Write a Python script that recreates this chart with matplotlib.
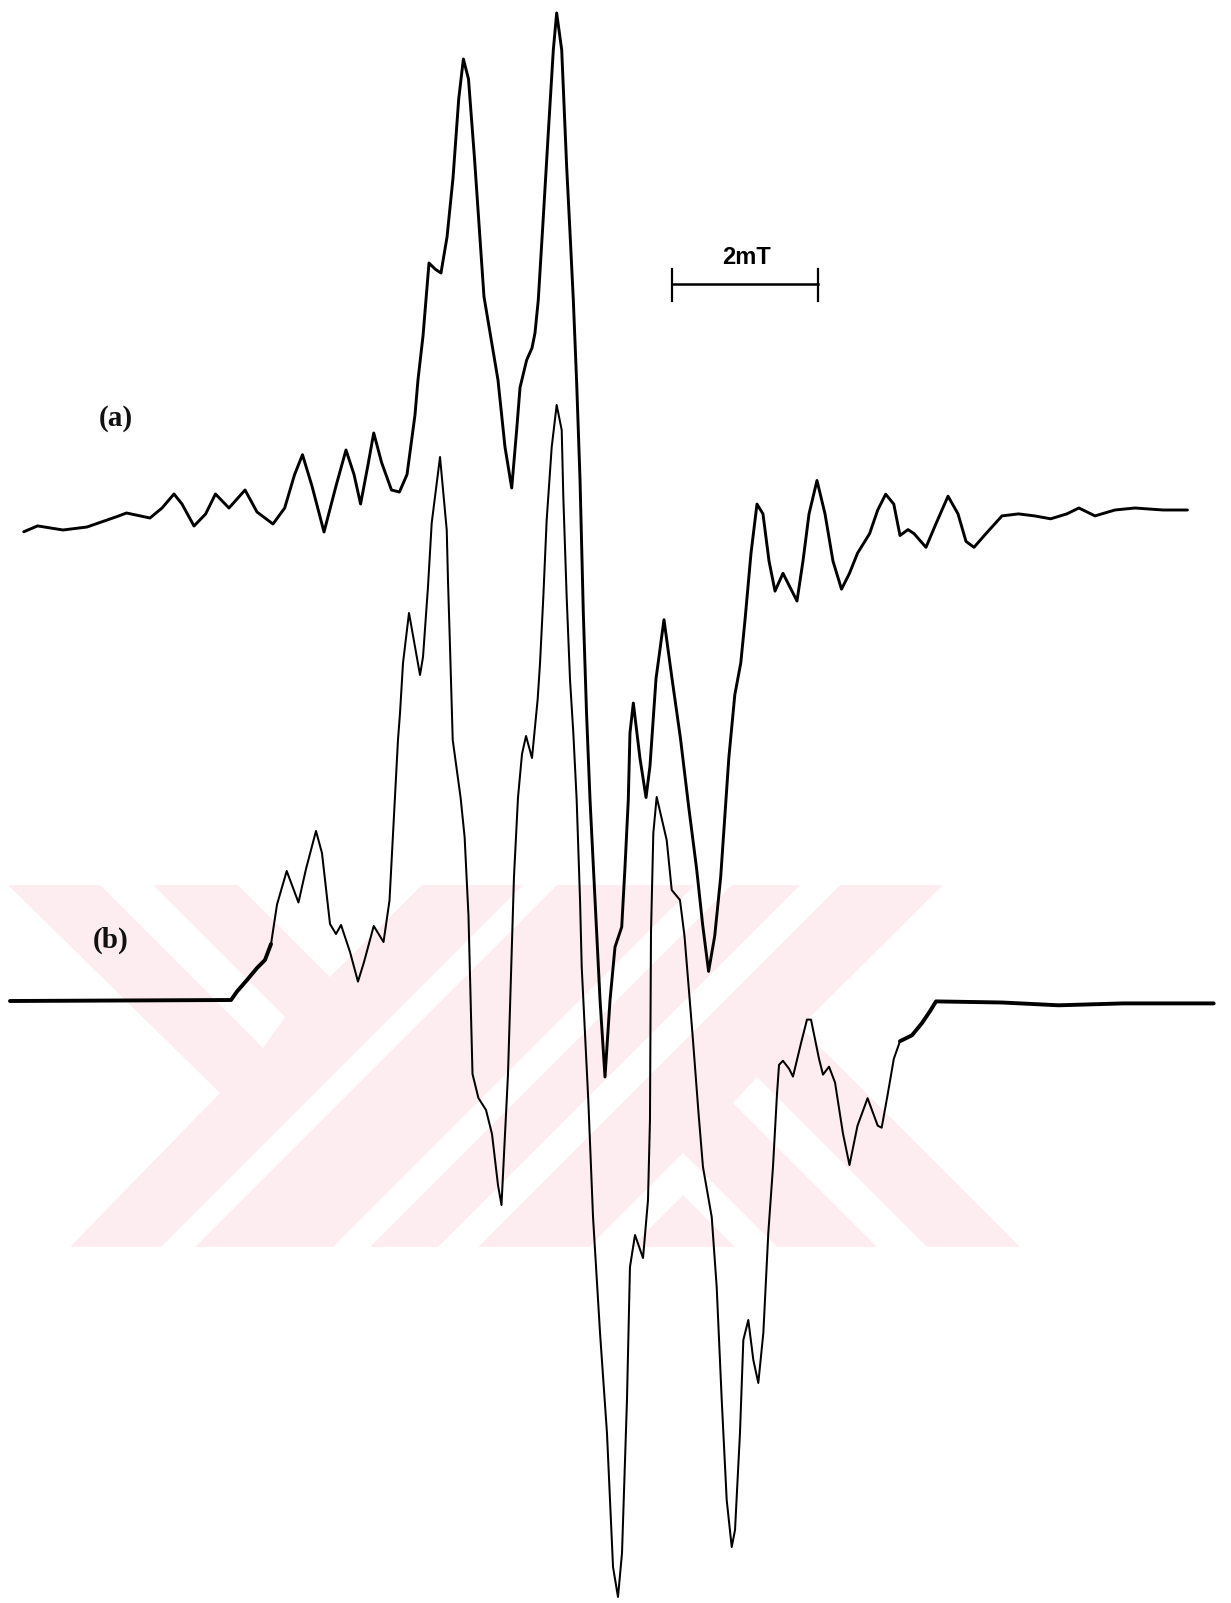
import matplotlib
matplotlib.use("Agg")
import matplotlib.pyplot as plt
from matplotlib.patches import Polygon
from matplotlib import font_manager
import numpy as np

# ---------------- data ----------------
# magnetic field offset (mT) and first-derivative signal (arbitrary units)
field_a = [-8.100, -7.910, -7.562, -7.233, -6.800, -6.692, -6.370, -6.205, -6.041, -5.932,
           -5.767, -5.608, -5.473, -5.288, -5.068, -4.904, -4.685, -4.525, -4.389, -4.281,
           -4.151, -3.986, -3.822, -3.685, -3.575, -3.485, -3.388, -3.305, -3.197, -3.062,
           -2.953, -2.849, -2.740, -2.699, -2.630, -2.548, -2.466, -2.384, -2.301, -2.219,
           -2.141, -2.077, -2.007, -1.925, -1.795, -1.685, -1.603, -1.507, -1.415, -1.347,
           -1.301, -1.210, -1.137, -1.096, -1.051, -0.982, -0.914, -0.845, -0.799, -0.730,
           -0.662, -0.616, -0.571, -0.525, -0.479, -0.456, -0.434, -0.390, -0.342, -0.274,
           -0.205, -0.137, -0.068, 0.000, 0.092, 0.137, 0.182, 0.205, 0.251, 0.342,
           0.425, 0.479, 0.562, 0.671, 0.781, 0.897, 1.007, 1.118, 1.200, 1.282,
           1.366, 1.448, 1.559, 1.641, 1.723, 1.781, 1.863, 1.945, 2.027, 2.110,
           2.192, 2.301, 2.411, 2.493, 2.575, 2.658, 2.767, 2.877, 2.986, 3.103,
           3.212, 3.322, 3.488, 3.599, 3.708, 3.819, 3.904, 4.014, 4.096, 4.260,
           4.397, 4.562, 4.699, 4.808, 4.918, 5.082, 5.301, 5.527, 5.748, 5.968,
           6.189, 6.355, 6.575, 6.849, 7.123, 7.507, 7.842]
signal_a = [-1.18, -0.59, -1.0, -0.7, 0.4, 0.7, 0.2, 1.2, 2.6, 1.6,
            -0.6, 0.6, 2.6, 1.2, 3.0, 0.8, -0.4, 1.2, 4.55, 6.53,
            3.4, -1.2, 3.4, 7.0, 4.55, 1.6, 5.34, 8.7, 5.74, 3.0,
            2.8, 4.55, 10.5, 14.0, 18.4, 25.7, 25.1, 24.7, 28.3, 34.2,
            42.1, 46.1, 44.1, 36.2, 22.35, 17.6, 14.0, 7.3, 3.2, 9.0,
            13.25, 16.0, 17.2, 18.7, 22.0, 30.3, 38.7, 47.0, 50.7, 47.0,
            35.3, 28.7, 22.0, 13.7, 4.0, -2.7, -9.3, -19.3, -28.0, -38.0,
            -48.0, -55.7, -48.0, -42.7, -40.7, -34.7, -28.0, -21.3, -18.3, -23.82,
            -27.75, -24.61, -15.86, -9.97, -15.86, -21.85, -28.54, -34.88, -40.43, -45.14,
            -41.6, -35.68, -23.82, -17.49, -14.29, -10.0, -3.32, 1.59, 0.61, -4.11,
            -7.11, -5.33, -6.92, -8.10, -4.11, 0.61, 3.95, 0.61, -4.11, -6.92,
            -5.33, -3.32, -1.36, 1.0, 2.58, 1.59, -1.55, -0.96, -1.36, -2.73,
            -0.37, 2.38, 0.61, -2.14, -2.73, -1.36, 0.41, 0.61, 0.41, 0.12,
            0.61, 1.2, 0.41, 1.0, 1.2, 1.0, 1.0]

field_b = [-8.288, -5.260, -5.178, -5.041, -4.904, -4.795, -4.712, -4.630, -4.497, -4.336,
           -4.233, -4.096, -4.014, -3.904, -3.822, -3.753, -3.630, -3.521, -3.438, -3.305,
           -3.171, -3.089, -3.014, -2.973, -2.945, -2.904, -2.822, -2.671, -2.630, -2.562,
           -2.511, -2.397, -2.305, -2.288, -2.260, -2.223, -2.115, -2.060, -2.007,
           -1.979, -1.952, -1.871, -1.767, -1.685, -1.603, -1.555, -1.466, -1.384, -1.329,
           -1.274, -1.219, -1.137, -1.059, -1.027, -0.982, -0.936, -0.867, -0.799, -0.730,
           -0.708, -0.662, -0.616, -0.571, -0.525, -0.479, -0.456, -0.411, -0.366, -0.301,
           -0.205, -0.110, -0.027, 0.041, 0.096, 0.164, 0.205, 0.274, 0.384, 0.452,
           0.479, 0.486, 0.493, 0.525, 0.571, 0.708, 0.777, 0.890, 0.952, 1.063,
           1.145, 1.205, 1.325, 1.393, 1.462, 1.530, 1.599, 1.644, 1.712, 1.758,
           1.826, 1.895, 1.963, 2.032, 2.100, 2.164, 2.219, 2.247, 2.301, 2.384,
           2.438, 2.548, 2.630, 2.685, 2.795, 2.849, 2.932, 3.014, 3.123, 3.212,
           3.322, 3.460, 3.599, 3.653, 3.736, 3.819, 3.904, 4.068, 4.205, 4.315,
           4.397, 5.301, 6.078, 6.959, 8.201]
signal_b = [0.4, 0.5, 1.35, 2.5, 3.7, 4.5, 6.1, 10.05, 13.4, 10.25,
            13.6, 17.4, 15.2, 8.1, 7.1, 8.0, 5.3, 2.34, 4.3, 7.9,
            6.3, 10.45, 20.73, 26.5, 29.2, 34.2, 39.2, 33.0, 34.8, 41.8,
            48.2, 54.8, 47.5, 42.5, 35.8, 26.5, 20.73, 16.8, 8.9,
            1.0, -6.9, -9.3, -10.5, -12.9, -18.0, -20.0, -6.95, 12.8, 20.73,
            25.1, 26.9, 24.7, 30.6, 34.2, 40.8, 48.5, 55.8, 60.0, 57.5,
            50.8, 40.8, 32.5, 27.2, 20.5, 10.5, 3.8, -2.8, -9.5, -21.2,
            -32.8, -42.8, -56.2, -59.2, -54.8, -39.5, -26.2, -23.0, -25.3, -19.5,
            -11.5, -2.8, 7.2, 17.2, 20.8, 16.5, 11.5, 10.5, 6.9, -3.03,
            -10.89, -16.2, -21.2, -28.2, -39.5, -49.5, -54.2, -52.5, -42.8, -33.5,
            -31.5, -35.5, -37.8, -32.8, -22.8, -16.2, -8.92, -5.98, -5.58, -6.37,
            -7.16, -3.82, -1.46, -1.46, -5.39, -6.96, -6.17, -7.75, -12.86, -16.0,
            -12.07, -9.32, -12.07, -12.27, -8.92, -5.39, -3.62, -3.03, -1.81, -0.62,
            0.36, 0.25, -0.03, 0.16, 0.16]

spectrum_labels = ["(a)", "(b)"]
scale_bar_mT = 2.0
scale_bar_text = "2mT"

# ---------------- figure ----------------
W, H = 1231, 1603
fig = plt.figure(figsize=(W / 100, H / 100), dpi=100)
fig.patch.set_facecolor("white")

# background: faint pink watermark of the scanned page (pixel frame)
bg = fig.add_axes([0, 0, 1, 1])
bg.set_xlim(0, W)
bg.set_ylim(H, 0)
bg.axis("off")
pink = "#fdedf0"
base = [(8, 885), (943, 885), (800, 1027), (1020, 1247), (70, 1247), (220, 1093)]
bg.add_patch(Polygon(base, closed=True, facecolor=pink, edgecolor="none", zorder=0))
white_cuts = [
    [(100, 885), (153, 885), (285, 1017), (263, 1048)],
    [(238, 885), (422, 885), (330, 977)],
    [(523, 885), (557, 885), (195, 1247), (161, 1247)],
    [(695, 885), (732, 885), (370, 1247), (333, 1247)],
    [(800, 885), (840, 885), (478, 1247), (438, 1247)],
    [(589, 1247), (683, 1153), (777, 1247), (735, 1247), (683, 1195), (631, 1247)],
    [(733, 1103), (757, 1077), (927, 1247), (877, 1247)],
]
for poly in white_cuts:
    bg.add_patch(Polygon(poly, closed=True, facecolor="white", edgecolor="none", zorder=1))

# data axes: field in mT, signal in a.u.
ax = fig.add_axes([0, 0, 1, 1])
ax.patch.set_alpha(0)
ax.axis("off")
px_per_mT = 73.0
center_px = 615.0
ax.set_xlim(-center_px / px_per_mT, (W - center_px) / px_per_mT)
ax.set_ylim(-H / 10.0, 0)
offset_a = -52.0
offset_b = -100.5

fa = np.array(field_a)
sa = np.array(signal_a) + offset_a
fb = np.array(field_b)
sb = np.array(signal_b) + offset_b

ax.plot(fa, sa, color="black", lw=2.1, solid_joinstyle="round", solid_capstyle="round", zorder=3)
ax.plot(fb, sb, color="black", lw=1.45, solid_joinstyle="round", solid_capstyle="round", zorder=3)
left_flat = fb <= -4.70
right_flat = fb >= 3.90
ax.plot(fb[left_flat], sb[left_flat], color="black", lw=2.8, solid_capstyle="round", zorder=3)
ax.plot(fb[right_flat], sb[right_flat], color="black", lw=2.8, solid_capstyle="round", zorder=3)

# scale bar
bar_start = 0.786
bar_y = -28.39
ax.plot([bar_start, bar_start + scale_bar_mT], [bar_y, bar_y], color="black", lw=1.8, zorder=3)
for xb in (bar_start, bar_start + scale_bar_mT):
    ax.plot([xb, xb], [bar_y + 1.5, bar_y - 1.66], color="black", lw=1.6, zorder=3)

names = {f.name for f in font_manager.fontManager.ttflist}
sans = "Liberation Sans Narrow" if "Liberation Sans Narrow" in names else "Liberation Sans"
ax.text(bar_start + scale_bar_mT / 2 + 0.02, -25.7, scale_bar_text, ha="center", va="center",
        fontsize=17, family=sans, fontweight="bold", color="black", zorder=4)

ax.text(-6.842, -41.9, spectrum_labels[0], ha="center", va="center", fontsize=21,
        family="Liberation Serif", fontweight="bold", color="#111111", zorder=4)
ax.text(-6.908, -94.0, spectrum_labels[1], ha="center", va="center", fontsize=21,
        family="Liberation Serif", fontweight="bold", color="#111111", zorder=4)

fig.savefig("out.png", dpi=100, facecolor="white")
